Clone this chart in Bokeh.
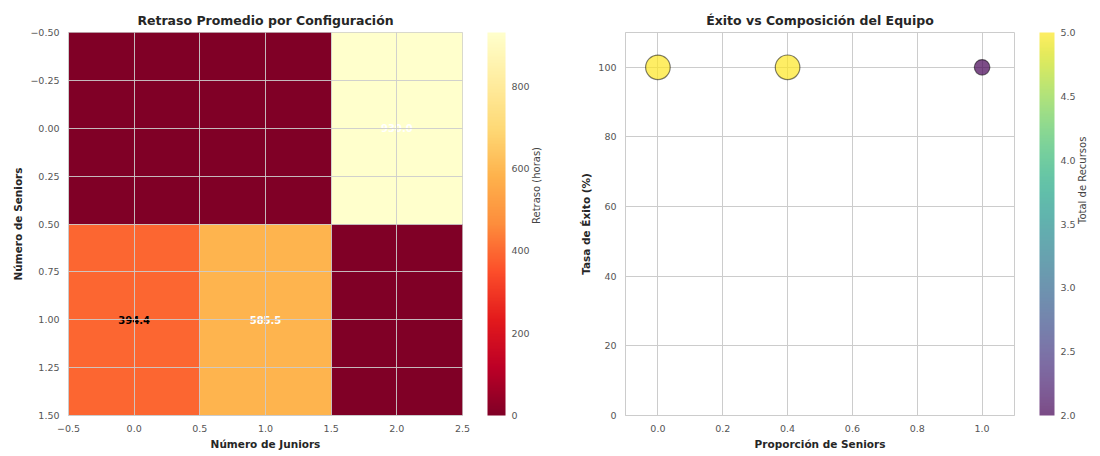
import numpy as np
from bokeh.plotting import figure
from bokeh.layouts import row
from bokeh.models import (ColumnDataSource, LinearColorMapper, ColorBar, FixedTicker,
                          Range1d, LinearAxis, CustomJSTickFormatter)
from bokeh.palettes import YlOrRd9, Viridis256
from bokeh.transform import transform
from bokeh.core.properties import value
from bokeh.embed import file_html
from bokeh.resources import INLINE

# ---------------- data ----------------
juniors = [0, 1, 2, 0, 1, 2]
seniors = [0, 0, 0, 1, 1, 1]
retraso = [0.0, 0.0, 930.0, 394.4, 585.5, 0.0]

prop_seniors = [0.0, 0.4, 1.0]
tasa_exito = [100, 100, 100]
total_recursos = [5, 5, 2]

heat_xticks = [-0.5, 0.0, 0.5, 1.0, 1.5, 2.0, 2.5]
heat_yticks = [-0.5, -0.25, 0.0, 0.25, 0.5, 0.75, 1.0, 1.25, 1.5]
cb1_ticks = [0, 200, 400, 600, 800]
sc_xticks = [0.0, 0.2, 0.4, 0.6, 0.8, 1.0]
sc_yticks = [0, 20, 40, 60, 80, 100]
cb2_ticks = [2.0, 2.5, 3.0, 3.5, 4.0, 4.5, 5.0]

FONT = "DejaVu Sans"
TXT = "#262626"
TICK = "#555555"
GRID = "#cccccc"


def interp_palette(colors, n=256):
    rgb = np.array([[int(c[i:i + 2], 16) for i in (1, 3, 5)] for c in colors], float)
    pos = np.linspace(0, 1, len(colors))
    t = np.linspace(0, 1, n)
    out = []
    for tt in t:
        r = [np.interp(tt, pos, rgb[:, k]) for k in range(3)]
        out.append("#%02x%02x%02x" % tuple(int(round(v)) for v in r))
    return out


heat_pal = interp_palette(list(YlOrRd9))

minus_fmt2 = CustomJSTickFormatter(code="return tick.toFixed(2).replace('-', '\u2212');")
minus_fmt1 = CustomJSTickFormatter(code="return tick.toFixed(1).replace('-', '\u2212');")
int_fmt = CustomJSTickFormatter(code="return tick.toFixed(0);")


def style(p):
    p.title.text_font = FONT
    p.title.text_font_size = "12.5px"
    p.title.text_font_style = "bold"
    p.title.text_color = TXT
    p.title.align = "center"
    for ax in (p.xaxis[0], p.yaxis[0]):
        ax.axis_label_text_font = FONT
        ax.axis_label_text_font_size = "10.5px"
        ax.axis_label_text_font_style = "bold"
        ax.axis_label_text_color = TXT
        ax.major_label_text_font = FONT
        ax.major_label_text_font_size = "9.5px"
        ax.major_label_text_color = TICK
        ax.major_tick_line_color = None
        ax.minor_tick_line_color = None
        ax.axis_line_color = GRID
        ax.major_label_standoff = 3
        ax.axis_label_standoff = 3
    p.xgrid.grid_line_color = GRID
    p.ygrid.grid_line_color = GRID
    p.outline_line_color = GRID
    p.background_fill_color = "white"
    p.border_fill_color = "white"


def side_axis(p, name, label, font_size, standoff):
    p.extra_y_ranges[name] = Range1d(0, 1)
    ax = LinearAxis(y_range_name=name, axis_label=label, ticker=FixedTicker(ticks=[]),
                    axis_line_color=None, major_tick_line_color=None, minor_tick_line_color=None,
                    axis_label_text_font=FONT, axis_label_text_font_size=font_size,
                    axis_label_text_font_style="normal",
                    axis_label_text_color="#444444", axis_label_standoff=standoff,
                    major_label_text_font_size="0px", axis_label_orientation=np.pi / 2)
    p.add_layout(ax, "right")


# ---------------- heatmap ----------------
p1 = figure(width=560, height=452, output_backend="svg", toolbar_location=None,
            x_range=Range1d(-0.5, 2.5), y_range=Range1d(1.5, -0.5),
            title="Retraso Promedio por Configuración",
            min_border_left=68, min_border_right=98, min_border_top=32, min_border_bottom=36)
p1.xaxis.axis_label = "Número de Juniors"
p1.yaxis.axis_label = "Número de Seniors"
p1.xaxis.ticker = FixedTicker(ticks=heat_xticks)
p1.yaxis.ticker = FixedTicker(ticks=heat_yticks)
p1.xaxis.formatter = minus_fmt1
p1.yaxis.formatter = minus_fmt2

mapper1 = LinearColorMapper(palette=heat_pal, low=0, high=max(retraso))
src1 = ColumnDataSource(dict(x=juniors, y=seniors, v=retraso))
p1.rect(x="x", y="y", width=1, height=1, source=src1,
        fill_color=transform("v", mapper1), line_color=None)

vmax = max(retraso)
lab = [(j, s, v) for j, s, v in zip(juniors, seniors, retraso) if v > 0]
src_t = ColumnDataSource(dict(
    x=[a[0] for a in lab], y=[a[1] for a in lab],
    t=["%.1f" % a[2] for a in lab],
    c=["white" if a[2] > vmax / 2 else "black" for a in lab]))
p1.text(x="x", y="y", text="t", source=src_t, text_color="c",
        text_align="center", text_baseline="middle",
        text_font=value(FONT), text_font_size="10px", text_font_style="bold")
style(p1)
p1.xgrid.level = "overlay"
p1.ygrid.level = "overlay"
p1.xgrid.grid_line_alpha = 0.9
p1.ygrid.grid_line_alpha = 0.9

side_axis(p1, "gap", " ", "19px", 0)
cb1 = ColorBar(color_mapper=mapper1, ticker=FixedTicker(ticks=cb1_ticks), formatter=int_fmt,
               width=18, padding=0, margin=0, bar_line_color=None,
               major_tick_line_color=None, minor_tick_line_color=None,
               major_label_text_font=FONT, major_label_text_font_size="9.5px",
               major_label_text_color=TICK, label_standoff=6,
               border_line_color=None, background_fill_color=None)
p1.add_layout(cb1, "right")
side_axis(p1, "cbl", "Retraso (horas)", "10px", 4)

# ---------------- scatter ----------------
p2 = figure(width=536, height=452, output_backend="svg", toolbar_location=None,
            x_range=Range1d(-0.1, 1.1), y_range=Range1d(0, 110),
            title="Éxito vs Composición del Equipo",
            min_border_left=65, min_border_right=78, min_border_top=32, min_border_bottom=36)
p2.xaxis.axis_label = "Proporción de Seniors"
p2.yaxis.axis_label = "Tasa de Éxito (%)"
p2.xaxis.ticker = FixedTicker(ticks=sc_xticks)
p2.yaxis.ticker = FixedTicker(ticks=sc_yticks)
p2.xaxis.formatter = minus_fmt1
p2.yaxis.formatter = int_fmt

mapper2 = LinearColorMapper(palette=Viridis256, low=min(total_recursos), high=max(total_recursos))
sizes = [11 * np.sqrt(t) for t in total_recursos]
src2 = ColumnDataSource(dict(x=prop_seniors, y=tasa_exito, r=total_recursos, s=sizes))
p2.scatter(x="x", y="y", size="s", source=src2, fill_color=transform("r", mapper2),
           fill_alpha=0.7, line_color="black", line_alpha=0.5, line_width=1.2)
style(p2)

side_axis(p2, "gap", " ", "19px", 0)
cb2 = ColorBar(color_mapper=mapper2, ticker=FixedTicker(ticks=cb2_ticks), formatter=minus_fmt1,
               width=15, padding=0, margin=0, bar_line_color=None, scale_alpha=0.7,
               major_tick_line_color=None, minor_tick_line_color=None,
               major_label_text_font=FONT, major_label_text_font_size="9.5px",
               major_label_text_color=TICK, label_standoff=6,
               border_line_color=None, background_fill_color=None)
p2.add_layout(cb2, "right")
side_axis(p2, "cbl", "Total de Recursos", "10px", 4)

layout = row(p1, p2)
open("out.html", "w").write(file_html(layout, INLINE))
